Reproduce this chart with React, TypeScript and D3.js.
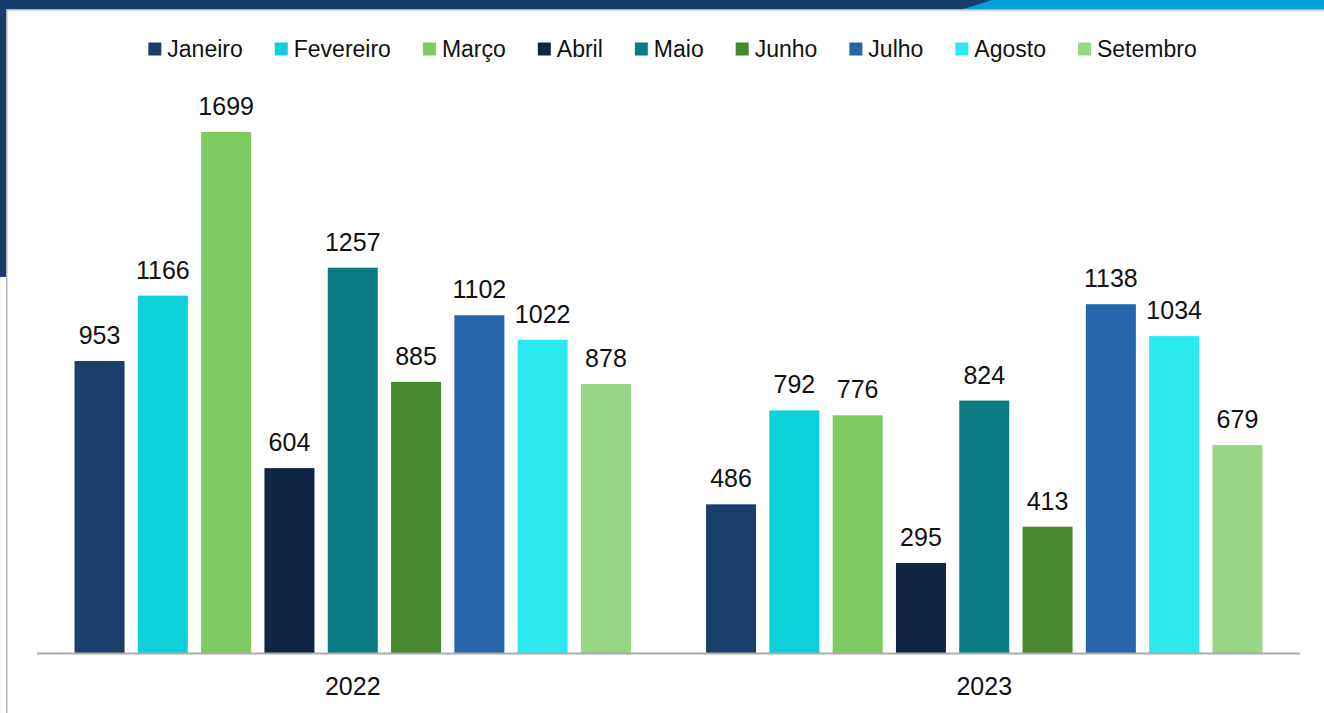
import React, { useEffect, useRef } from 'react';
import * as d3 from 'd3';

const years = ['2022', '2023'];
const months = ['Janeiro', 'Fevereiro', 'Março', 'Abril', 'Maio', 'Junho', 'Julho', 'Agosto', 'Setembro'];
const values2022 = [953, 1166, 1699, 604, 1257, 885, 1102, 1022, 878];
const values2023 = [486, 792, 776, 295, 824, 413, 1138, 1034, 679];
const colors = ['#1a3f6b', '#0dd1d9', '#7ecb62', '#112543', '#097b81', '#47872e', '#2565aa', '#2aeaf0', '#97d784'];

const W = 1324;
const H = 713;
const FONT = '"Liberation Sans", Arial, sans-serif';

const App = () => {
  const svgRef = useRef<SVGSVGElement>(null);

  useEffect(() => {
    document.body.style.margin = '0';
    document.body.style.overflow = 'hidden';

    const svg = d3.select(svgRef.current);
    svg.selectAll('*').remove();
    svg.attr('width', W).attr('height', H);

    // frame decoration
    svg.append('rect').attr('x', 0).attr('y', 0).attr('width', W).attr('height', 9).attr('fill', '#173d69');
    svg.append('polygon').attr('points', `992,0 ${W},0 ${W},9 963,9`).attr('fill', '#009fd9');
    svg.append('rect').attr('x', 0).attr('y', 0).attr('width', 6).attr('height', 277).attr('fill', '#173d69');
    svg.append('line').attr('x1', 6).attr('x2', W).attr('y1', 9.75).attr('y2', 9.75)
      .attr('stroke', '#b4b4b4').attr('stroke-width', 1.5);
    svg.append('line').attr('x1', 6.75).attr('x2', 6.75).attr('y1', 9).attr('y2', H)
      .attr('stroke', '#b4b4b4').attr('stroke-width', 1.5);

    const data = [values2022, values2023];

    const x0 = d3.scaleBand().domain(years).range([37, 1300]).padding(0);
    const x1 = d3.scaleBand<number>()
      .domain(d3.range(months.length))
      .range([0, x0.bandwidth()])
      .paddingInner(0.21)
      .paddingOuter(0.593);
    const y = d3.scaleLinear().domain([0, 1699]).range([653.5, 132]);

    const groups = svg.selectAll('.grp')
      .data(years)
      .enter()
      .append('g')
      .attr('class', 'grp')
      .attr('transform', (d) => `translate(${x0(d)},0)`);

    groups.each(function (yr, gi) {
      const g = d3.select(this);
      const vals = data[gi];
      g.selectAll('rect')
        .data(vals)
        .enter()
        .append('rect')
        .attr('x', (d, i) => x1(i)!)
        .attr('width', x1.bandwidth())
        .attr('y', (d) => y(d))
        .attr('height', (d) => y(0) - y(d))
        .attr('fill', (d, i) => colors[i]);
      g.selectAll('text.val')
        .data(vals)
        .enter()
        .append('text')
        .attr('class', 'val')
        .attr('x', (d, i) => x1(i)! + x1.bandwidth() / 2)
        .attr('y', (d) => y(d) - 17)
        .attr('text-anchor', 'middle')
        .attr('font-family', FONT)
        .attr('font-size', 25)
        .attr('fill', '#111')
        .text((d) => d);
    });

    // axis line
    svg.append('line').attr('x1', 37).attr('x2', 1300).attr('y1', 653.5).attr('y2', 653.5)
      .attr('stroke', '#ababab').attr('stroke-width', 2);

    svg.selectAll('.yr')
      .data(years)
      .enter()
      .append('text')
      .attr('class', 'yr')
      .attr('x', (d) => x0(d)! + x0.bandwidth() / 2)
      .attr('y', 695)
      .attr('text-anchor', 'middle')
      .attr('font-family', FONT)
      .attr('font-size', 25)
      .attr('fill', '#111')
      .text((d) => d);

    // legend
    const legend = svg.append('g');
    let cursor = 0;
    months.forEach((m, i) => {
      const item = legend.append('g').attr('transform', `translate(${cursor},0)`);
      item.append('rect').attr('x', 0).attr('y', 42.5).attr('width', 13).attr('height', 13).attr('fill', colors[i]);
      const t = item.append('text')
        .attr('x', 19)
        .attr('y', 56.5)
        .attr('font-family', FONT)
        .attr('font-size', 23)
        .attr('fill', '#111')
        .text(m);
      const tw = (t.node() as SVGTextElement).getComputedTextLength();
      cursor += 19 + tw + (i < months.length - 1 ? 32 : 0);
    });
    legend.attr('transform', `translate(${672.5 - cursor / 2},0)`);
  }, []);

  return <svg ref={svgRef} style={{ display: 'block' }}></svg>;
};

export default App;
